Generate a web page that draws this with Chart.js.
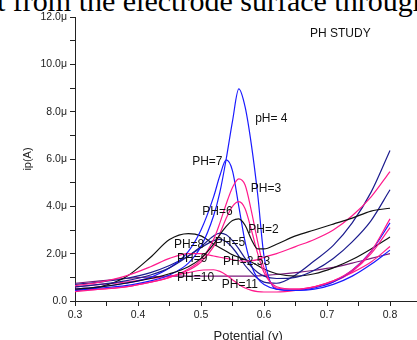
<!DOCTYPE html>
<html>
<head>
<meta charset="utf-8">
<script src="https://cdn.jsdelivr.net/npm/chart.js@4"></script>
<style>
    html, body { margin: 0; padding: 0; background: #fff; overflow: hidden; }
    #page { position: relative; width: 417px; height: 340px; overflow: hidden; }
    #cut { position: absolute; left: -3px; top: -14px; white-space: nowrap;
           font: 30px "Liberation Serif", "Times New Roman", serif; line-height: 1; color: #000; }
    #wrap { position: absolute; left: 0; top: 0; width: 425px; height: 345px; }
</style>
</head>
<body>
<div id="page">
    <div id="cut">t from the electrode surface through</div>
    <div id="wrap"><canvas id="myChart"></canvas></div>
</div>
<script>
// potential (V)
const potential = [0.30, 0.34, 0.38, 0.42, 0.45, 0.48, 0.50, 0.52, 0.53, 0.54, 0.55, 0.56,
                   0.57, 0.58, 0.59, 0.60, 0.62, 0.65, 0.68, 0.71, 0.74, 0.77, 0.80];

// current (µA) for each pH
const ph2   = [0.5, 0.6, 0.75, 0.95, 1.15, 1.45, 1.8, 2.4, 2.8, 3.15, 3.4, 3.47, 3.2, 2.6, 2.2, 2.2, 2.4, 2.75, 3.0, 3.25, 3.5, 3.8, 3.92];
const ph253 = [0.65, 0.8, 1.05, 1.45, 1.8, 2.0, 2.0, 1.9, 1.85, 1.8, 1.75, 1.7, 1.68, 1.7, 1.75, 1.85, 2.0, 2.3, 2.6, 3.0, 3.6, 4.4, 5.47];
const ph3   = [0.4, 0.5, 0.6, 0.8, 1.0, 1.35, 1.75, 2.6, 3.3, 4.1, 4.8, 5.16, 4.9, 3.8, 2.5, 1.4, 0.55, 0.5, 0.6, 0.85, 1.3, 2.1, 3.47];
const ph4   = [0.45, 0.55, 0.65, 0.85, 1.1, 1.6, 2.3, 3.6, 4.6, 6.0, 7.6, 8.96, 8.2, 6.6, 4.5, 1.9, 0.5, 0.45, 0.55, 0.8, 1.3, 2.1, 3.3];
const ph5   = [0.6, 0.7, 0.85, 1.1, 1.4, 1.9, 2.3, 2.75, 2.87, 2.8, 2.55, 2.2, 1.8, 1.45, 1.2, 1.05, 0.95, 1.0, 1.3, 1.8, 2.5, 3.4, 4.7];
const ph6   = [0.45, 0.5, 0.6, 0.8, 1.0, 1.3, 1.65, 2.3, 2.85, 3.5, 4.0, 4.2, 3.9, 3.0, 2.0, 1.2, 0.6, 0.5, 0.6, 0.8, 1.25, 2.0, 3.1];
const ph7   = [0.5, 0.6, 0.75, 1.0, 1.4, 2.1, 3.0, 4.4, 5.3, 5.96, 5.5, 4.0, 2.5, 1.5, 0.95, 0.7, 0.5, 0.45, 0.5, 0.7, 1.05, 1.55, 2.15];
const ph8   = [0.45, 0.6, 1.0, 1.85, 2.6, 2.85, 2.75, 2.4, 2.25, 2.1, 1.95, 1.85, 1.75, 1.65, 1.5, 1.35, 1.15, 1.05, 1.15, 1.4, 1.75, 2.2, 2.7];
const ph9   = [0.7, 0.8, 0.95, 1.2, 1.5, 1.9, 2.25, 2.55, 2.6, 2.5, 2.25, 1.9, 1.5, 1.2, 0.95, 0.8, 0.75, 1.1, 1.7, 2.35, 3.3, 4.6, 6.36];
const ph10  = [0.6, 0.7, 0.8, 0.95, 1.05, 1.2, 1.3, 1.32, 1.25, 1.1, 0.9, 0.7, 0.55, 0.45, 0.4, 0.38, 0.38, 0.45, 0.6, 0.85, 1.2, 1.65, 2.3];
const ph11  = [0.75, 0.85, 0.95, 1.02, 1.05, 1.05, 1.05, 1.05, 1.05, 1.05, 1.05, 1.05, 1.05, 1.05, 1.06, 1.08, 1.12, 1.2, 1.3, 1.42, 1.6, 1.8, 2.0];

const yTicks = [0, 2, 4, 6, 8, 10, 12];

const BLUE = '#1a1aff', NAVY = '#1c1c8e', PINK = '#ff1a8c', BLACK = '#111111', PURPLE = '#7a1a7a';

const series = [
    { name: 'pH 2',    values: ph2,   color: BLACK },
    { name: 'pH 2.53', values: ph253, color: PINK },
    { name: 'pH 3',    values: ph3,   color: PINK },
    { name: 'pH 4',    values: ph4,   color: BLUE },
    { name: 'pH 5',    values: ph5,   color: NAVY },
    { name: 'pH 6',    values: ph6,   color: PINK },
    { name: 'pH 7',    values: ph7,   color: BLUE },
    { name: 'pH 8',    values: ph8,   color: BLACK },
    { name: 'pH 9',    values: ph9,   color: NAVY },
    { name: 'pH 10',   values: ph10,  color: PINK },
    { name: 'pH 11',   values: ph11,  color: PURPLE }
];

// curve labels, placed in data units (V, µA)
const notes = [
    { text: 'pH= 4',   x: 0.586, y: 7.7 },
    { text: 'PH=7',    x: 0.486, y: 5.88 },
    { text: 'PH=3',    x: 0.579, y: 4.74 },
    { text: 'PH=6',    x: 0.502, y: 3.76 },
    { text: 'PH=2',    x: 0.575, y: 3.0 },
    { text: 'PH=8',    x: 0.457, y: 2.37 },
    { text: 'PH=5',    x: 0.522, y: 2.45 },
    { text: 'PH=9',    x: 0.462, y: 1.78 },
    { text: 'PH=2.53', x: 0.535, y: 1.65 },
    { text: 'PH=10',   x: 0.462, y: 1.0 },
    { text: 'PH=11',   x: 0.533, y: 0.68 },
    { text: 'PH STUDY', x: 0.673, y: 11.3 }
];

const FONT = '"Liberation Sans", Arial, sans-serif';

const notesPlugin = {
    id: 'notes',
    afterDatasetsDraw(chart) {
        const ctx = chart.ctx;
        const xs = chart.scales.x, ys = chart.scales.y;
        ctx.save();
        ctx.font = '12px ' + FONT;
        ctx.fillStyle = '#111';
        ctx.textBaseline = 'middle';
        ctx.textAlign = 'left';
        notes.forEach(n => ctx.fillText(n.text, xs.getPixelForValue(n.x), ys.getPixelForValue(n.y)));
        ctx.restore();
    }
};

const ctx = document.getElementById('myChart').getContext('2d');

new Chart(ctx, {
    type: 'line',
    data: {
        datasets: series.map(s => ({
            label: s.name,
            data: potential.map((p, i) => ({ x: p, y: s.values[i] })),
            borderColor: s.color,
            borderWidth: 1.2,
            pointRadius: 0,
            fill: false,
            cubicInterpolationMode: 'monotone'
        }))
    },
    options: {
        responsive: true,
        maintainAspectRatio: false,
        animation: false,
        layout: { padding: { top: 17, right: 3.5, left: 0, bottom: 0 } },
        plugins: {
            legend: { display: false },
            tooltip: { enabled: false }
        },
        scales: {
            x: {
                type: 'linear',
                min: 0.3,
                max: 0.85,
                afterFit: s => { s.height = 44; },
                border: { display: true, color: '#222', width: 1 },
                grid: { drawOnChartArea: false, drawTicks: true, tickLength: 5, tickColor: '#222' },
                ticks: {
                    stepSize: 0.05,
                    padding: 3,
                    color: '#222',
                    font: { family: FONT, size: 10.5 },
                    maxRotation: 0,
                    autoSkip: false,
                    callback: v => {
                        const k = Math.round(v * 20);
                        return (k % 2 === 0 && k <= 16) ? (k / 20).toFixed(1) : '';
                    }
                },
                title: {
                    display: true,
                    text: 'Potential (v)',
                    color: '#222',
                    font: { family: FONT, size: 13, lineHeight: 1 },
                    padding: { top: 0, bottom: 2.5 }
                }
            },
            y: {
                min: 0,
                max: 12,
                afterFit: s => { s.width = 75; },
                border: { display: true, color: '#222', width: 1 },
                grid: { drawOnChartArea: false, drawTicks: true, tickLength: 5, tickColor: '#222' },
                ticks: {
                    stepSize: 1,
                    padding: 3,
                    color: '#222',
                    font: { family: FONT, size: 10.5 },
                    autoSkip: false,
                    callback: v => {
                        if (!yTicks.includes(v)) return '';
                        return v === 0 ? '0.0' : v.toFixed(1) + 'μ';
                    }
                },
                title: {
                    display: true,
                    text: 'ip(A)',
                    color: '#222',
                    font: { family: FONT, size: 11, lineHeight: 1.2 },
                    padding: { top: 21, bottom: 0 }
                }
            }
        }
    },
    plugins: [notesPlugin]
});
</script>
</body>
</html>
